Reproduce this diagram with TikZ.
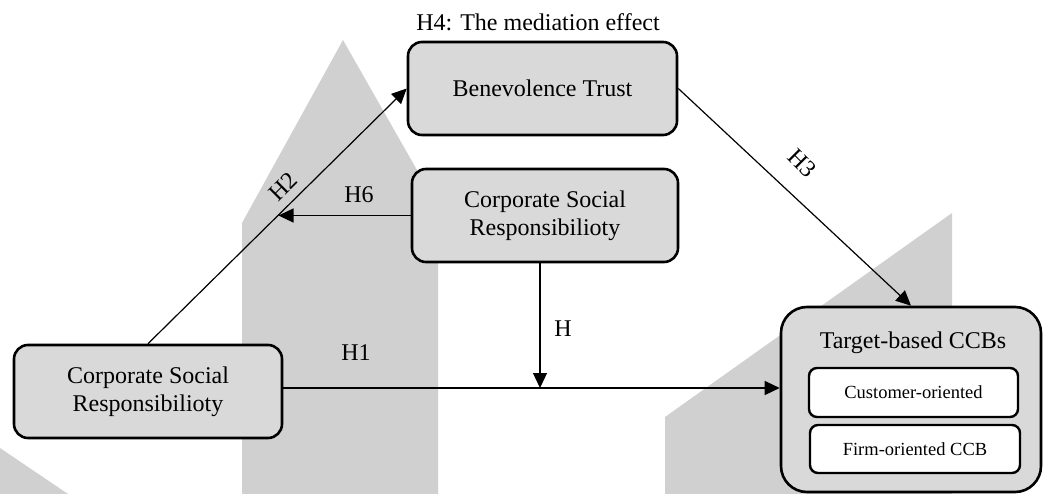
\documentclass[tikz,border=0pt]{standalone}
\usepackage{fontspec}
\setmainfont{Liberation Serif}
\usetikzlibrary{arrows.meta}
\definecolor{wm}{RGB}{208,208,208}
\definecolor{boxfill}{RGB}{217,217,217}
\begin{document}
\begin{tikzpicture}[x=1pt,y=-1pt,
  bigbox/.style={draw=black, line width=2.6pt, fill=boxfill, rounded corners=14pt,
    inner sep=0pt, align=center, font=\fontsize{24}{28}\selectfont},
  subbox/.style={draw=black, line width=2.4pt, fill=white, rounded corners=8pt,
    inner sep=0pt, align=center, font=\fontsize{18.5}{22}\selectfont},
  conn/.style={line width=1.2pt, -{Triangle[length=15pt,width=14pt]}},
  lbl/.style={font=\fontsize{24}{28}\selectfont, inner sep=0pt}]
\useasboundingbox (0,0) rectangle (1043,494);
% watermark shapes
\fill[wm] (242,494) -- (242,223) -- (343,40) -- (438,207) -- (438,494) -- cycle;
\fill[wm] (665,494) -- (665,417) -- (952,213) -- (952,494) -- cycle;
\fill[wm] (0,448) -- (68,494) -- (0,494) -- cycle;
% nodes
\node[bigbox, minimum width=269pt, minimum height=93pt] (bt) at (542.5,88.5) {Benevolence Trust};
\node[bigbox, minimum width=266pt, minimum height=93pt] (mid) at (545,215.5) {Corporate Social\\Responsibilioty};
\node[bigbox, minimum width=268pt, minimum height=93pt] (left) at (148,391.5) {Corporate Social\\Responsibilioty};
\node[bigbox, rounded corners=26pt, minimum width=260pt, minimum height=185pt] (target) at (911,399.5) {};
\node[lbl] (ttitle) at (913,343) {Target-based CCBs};
\node[subbox, minimum width=209pt, minimum height=49pt] (cust) at (913.5,392.5) {Customer-oriented};
\node[subbox, minimum width=210pt, minimum height=48pt] (firm) at (915,449) {Firm-oriented CCB};
\node[lbl] (h4) at (538,22) {H4: The mediation effect};
% coordinates
\coordinate (h6end) at (278.5,215.5);
\coordinate (hmeet) at (540,388);
% connectors
\draw[conn] (left.north) -- (bt.west);
\node[lbl, rotate=45] (h2) at (283,187) {H2};
\draw[conn] (bt.east) -- (target.north);
\node[lbl, rotate=-45] (h3) at (802,163) {H3};
\draw[conn] (mid.west) -- (h6end);
\node[lbl] (h6) at (359,195) {H6};
\draw[conn] (mid.south -| hmeet) -- (hmeet);
\node[lbl] (hh) at (563,329) {H};
\draw[conn] (left.east |- hmeet) -- (target.west |- hmeet);
\node[lbl] (h1) at (356,353) {H1};
\end{tikzpicture}
\end{document}
